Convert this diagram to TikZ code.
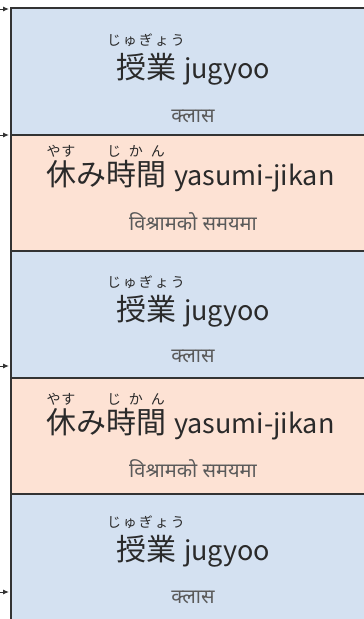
\documentclass[tikz,border=0pt]{standalone}
\usepackage{fontspec}
\setmainfont{Noto Sans CJK JP}
\newfontfamily\deva[Script=Devanagari]{Noto Sans}
\usetikzlibrary{arrows.meta}
\definecolor{blueF}{HTML}{D4E1F1}
\definecolor{peachF}{HTML}{FDE2D4}
\definecolor{edgeC}{HTML}{333333}
\definecolor{inkC}{HTML}{2A2A2A}
\definecolor{subC}{HTML}{5A5A5A}
\newbox\rbbox
\newcommand\rubyfont{\fontsize{14}{14}\selectfont}
\newcommand\latn[1]{\hspace{8pt}{\fontsize{27}{30}\selectfont #1}}
\newcommand\rbx[3]{\setbox\rbbox\hbox{#2}\rlap{\hbox to \wd\rbbox{\hss\raisebox{#1}{\rubyfont #3}\hss}}\box\rbbox}
\tikzset{
  band/.style={draw=edgeC, line width=2pt, rectangle, inner sep=0pt, outer sep=0pt,
    anchor=north west, minimum width=420pt},
  bluebox/.style={band, fill=blueF, minimum height=127pt},
  peachbox/.style={band, fill=peachF, minimum height=116pt},
  mainT/.style={inner sep=0pt, outer sep=0pt, text=inkC, font=\fontsize{30}{32}\selectfont, anchor=base west},
  subT/.style={inner sep=0pt, outer sep=0pt, text=subC, font=\deva\fontsize{20}{22}\selectfont, anchor=base},
  arr/.style={draw=edgeC, line width=1pt, -{Latex[length=6pt,width=5pt]}}
}
\begin{document}
\begin{tikzpicture}[x=1pt,y=-1pt]
\useasboundingbox (0,0) rectangle (364,619);
\clip (0,0) rectangle (364,619);
\node[bluebox] (b1) at (11,8) {};
\node[peachbox] (b2) at (b1.south west) {};
\node[bluebox] (b3) at (b2.south west) {};
\node[peachbox] (b4) at (b3.south west) {};
\node[bluebox] (b5) at (b4.south west) {};
% main lines
\node[mainT] (m1) at (116,78) {\rbx{32.5pt}{授業}{じ\kern2ptゅ\kern2ptぎ\kern2ptょ\kern2ptう}\latn{jugyoo}};
\node[mainT] (m2) at (46,185.5) {\rbx{29pt}{休}{や\kern1ptす}み\rbx{29pt}{時間}{じ\kern8ptか\kern8ptん}\latn{yasumi-jikan}};
\node[mainT] (m3) at (116,320) {\rbx{32.5pt}{授業}{じ\kern2ptゅ\kern2ptぎ\kern2ptょ\kern2ptう}\latn{jugyoo}};
\node[mainT] (m4) at (46,433.5) {\rbx{29pt}{休}{や\kern1ptす}み\rbx{29pt}{時間}{じ\kern8ptか\kern8ptん}\latn{yasumi-jikan}};
\node[mainT] (m5) at (116,560) {\rbx{32.5pt}{授業}{じ\kern2ptゅ\kern2ptぎ\kern2ptょ\kern2ptう}\latn{jugyoo}};
% subtitles
\node[subT] (s1) at (193,122) {क्लास};
\node[subT] (s2) at (193,230) {विश्रामको समयमा};
\node[subT] (s3) at (193,362) {क्लास};
\node[subT] (s4) at (193,477) {विश्रामको समयमा};
\node[subT] (s5) at (193,603) {क्लास};
% arrows
\coordinate (p1) at (0,9);   \coordinate (q1) at (9,9);
\coordinate (p2) at (0,135); \coordinate (q2) at (9,135);
\coordinate (p3) at (0,366); \coordinate (q3) at (9,366);
\coordinate (p4) at (0,592); \coordinate (q4) at (9,592);
\draw[arr] (p1) -- (q1);
\draw[arr] (p2) -- (q2);
\draw[arr] (p3) -- (q3);
\draw[arr] (p4) -- (q4);
\end{tikzpicture}
\end{document}
